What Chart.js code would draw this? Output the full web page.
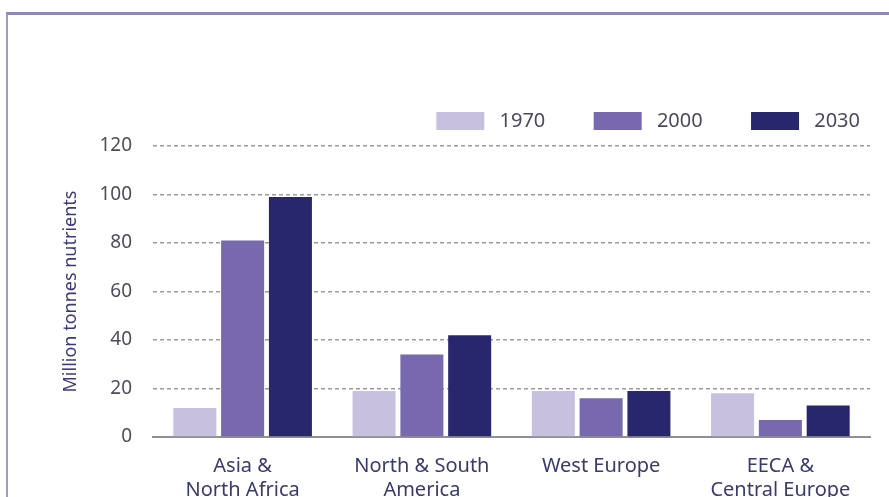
<!DOCTYPE html>
<html>
<head>
<meta charset="utf-8">
<script src="https://cdn.jsdelivr.net/npm/chart.js@4"></script>
<style>
  body { margin: 0; background: #fff; }
  #wrap { position: relative; width: 889px; height: 497px; }
  #frame {
    position: absolute; left: 6px; top: 12px; right: 0; bottom: 0;
    border-top: 3px solid #8d8aba; border-left: 2px solid #9e9bc8;
    pointer-events: none;
  }
</style>
</head>
<body>
<div id="wrap">
  <canvas id="nutrientChart" width="889" height="497"></canvas>
  <div id="frame"></div>
</div>
<script>
// Data
const regions = [
  ["Asia &", "North Africa"],
  ["North & South", "America"],
  ["West Europe"],
  ["EECA &", "Central Europe"],
];
const years = ["1970", "2000", "2030"];
const values1970 = [12, 19, 19, 18];
const values2000 = [81, 34, 16, 7];
const values2030 = [99, 42, 19, 13];
const yTicks = [0, 20, 40, 60, 80, 100, 120];

const font = "'Noto Sans', 'Open Sans', sans-serif";
const colors = ["#c8c0df", "#7868ad", "#28276e"];

// a bit more room between legend and plot
const legendSpacing = {
  id: "legendSpacing",
  beforeInit: function (c) {
    const fit = c.legend.fit;
    c.legend.fit = function () {
      fit.bind(c.legend)();
      this.height += 5;
    };
  },
};

const ctx = document.getElementById("nutrientChart").getContext("2d");
const chart = new Chart(ctx, {
  type: "bar",
  data: {
    labels: regions,
    datasets: years.map(function (y, i) {
      return {
        label: y,
        data: [values1970, values2000, values2030][i],
        backgroundColor: colors[i],
      };
    }),
  },
  plugins: [legendSpacing],
  options: {
    responsive: false,
    animation: false,
    layout: { padding: { top: 101, right: 19, bottom: 0, left: 0 } },
    plugins: {
      tooltip: { enabled: false },
      legend: {
        position: "top",
        align: "end",
        labels: {
          boxWidth: 48,
          boxHeight: 18,
          padding: 10,
          color: "#4a4a5c",
          font: { family: font, size: 20 },
          // extra spaces widen the gaps between legend items
          generateLabels: function (c) {
            const items = Chart.defaults.plugins.legend.labels.generateLabels(c);
            items.forEach(function (it, i) {
              it.text = " " + it.text + (i < items.length - 1 ? "       \u200A" : "");
            });
            return items;
          },
        },
      },
    },
    scales: {
      x: {
        grid: { display: false },
        border: { display: true, color: "#8f8f96", width: 2 },
        ticks: {
          color: "#3a3a6c",
          font: { family: font, size: 20 },
          padding: 9,
          maxRotation: 0,
          autoSkip: false,
        },
        afterFit: function (scale) { scale.height = 60; },
      },
      y: {
        min: 0,
        max: 120,
        afterBuildTicks: function (scale) {
          scale.ticks = yTicks.map(function (v) { return { value: v }; });
        },
        grid: {
          color: "#9a9aa2",
          lineWidth: 1.5,
          drawTicks: false,
        },
        border: { display: false, dash: [4, 3] },
        ticks: {
          color: "#4d4d5c",
          font: { family: font, size: 19 },
          padding: 21,
        },
        title: {
          display: true,
          text: "Million tonnes nutrients",
          color: "#3b3a78",
          font: { family: font, size: 18 },
          padding: { top: 60, bottom: 0 },
        },
        afterFit: function (scale) { scale.width = 153; },
      },
    },
  },
});
</script>
</body>
</html>
